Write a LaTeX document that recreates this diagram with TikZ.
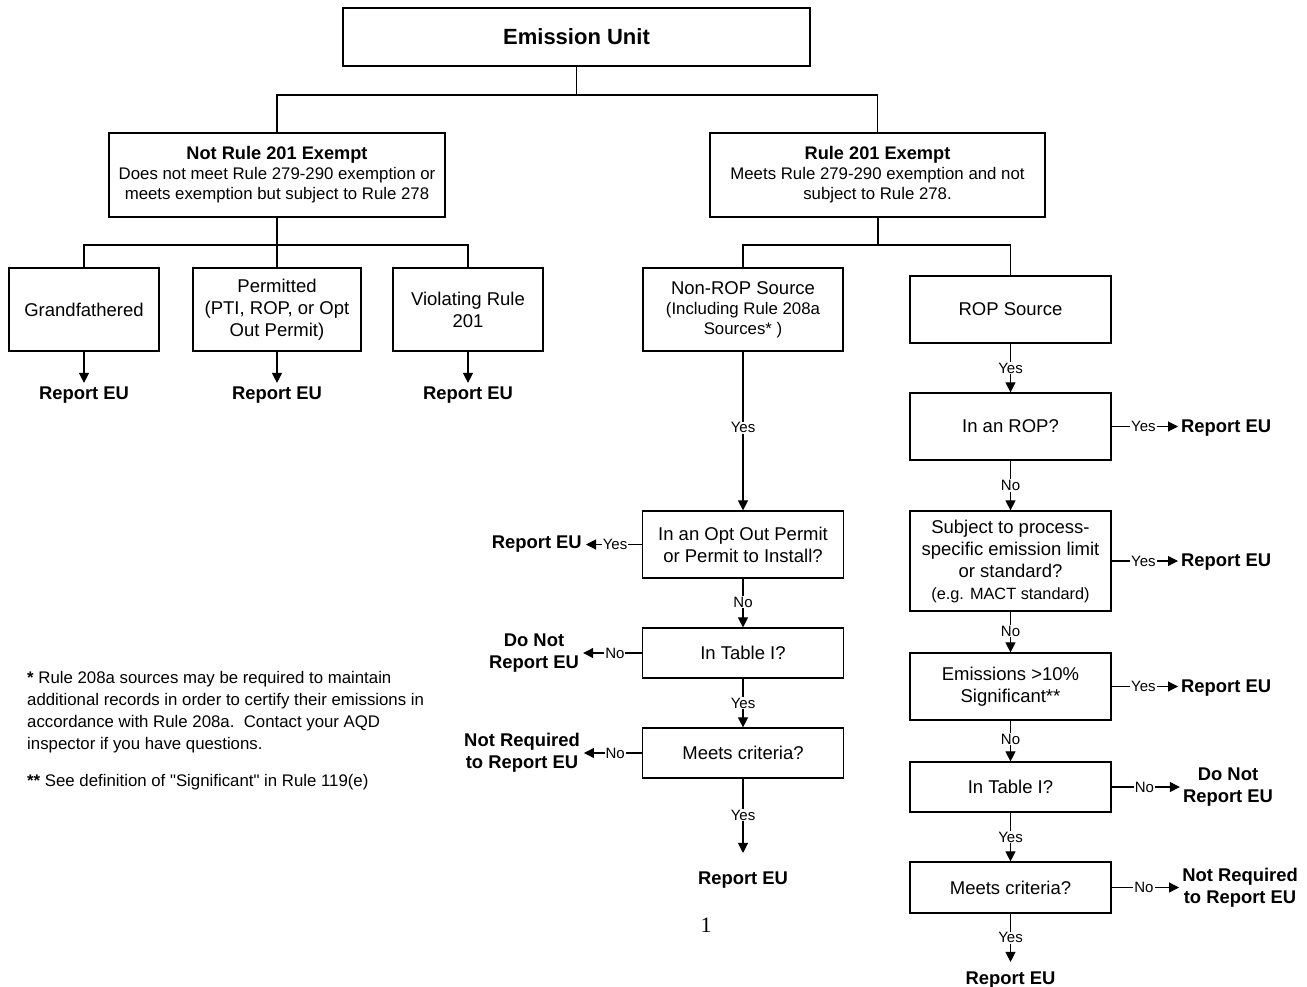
\documentclass[tikz,border=0pt]{standalone}
\usepackage{fontspec}
\setmainfont{Liberation Sans}
\newfontfamily\qfont{Liberation Sans}
\newfontfamily\serifnum{Liberation Serif}
\usetikzlibrary{arrows.meta}
\tikzset{
  box/.style={draw, line width=1.2pt, fill=white, align=center, inner sep=0pt,
    font=\fontsize{18.5}{22}\selectfont},
  conn/.style={line width=1.1pt},
  stem/.style={line width=2pt},
  arr/.style={line width=1.1pt, -{Triangle[length=10pt,width=10pt]}},
  lab/.style={fill=white, inner sep=1pt, font=\fontsize{15}{16}\selectfont},
  res/.style={align=center, inner sep=3pt, font=\bfseries\fontsize{18.4}{22}\selectfont},
}
\begin{document}
\begin{tikzpicture}[x=1pt,y=-1pt]
\useasboundingbox (0,0) rectangle (1307,986);
% top
\node[box, minimum width=467, minimum height=58, font=\bfseries\fontsize{22}{24}\selectfont] (eu) at (576.5,37) {Emission Unit};
\node[box, minimum width=336, minimum height=84, font=\fontsize{16.8}{20}\selectfont] (nr) at (277,175)
  {{\bfseries\fontsize{18.2}{20}\selectfont Not Rule 201 Exempt}\\Does not meet Rule 279-290 exemption or\\meets exemption but subject to Rule 278};
\node[box, minimum width=335, minimum height=84, font=\fontsize{16.8}{20}\selectfont] (ex) at (877.5,175)
  {{\bfseries\fontsize{18.2}{20}\selectfont Rule 201 Exempt}\\Meets Rule 279-290 exemption and not\\subject to Rule 278.};
\coordinate (j0) at (576.5,95);
\draw[conn] (eu.south) -- (j0);
\draw[conn] (nr.north) |- (j0) -| (ex.north);
% not exempt branch
\node[box, minimum width=150, minimum height=83] (gf) at (84,309.5) {Grandfathered};
\node[box, minimum width=168, minimum height=83] (pm) at (277,309.5) {Permitted\\(PTI, ROP, or Opt\\Out Permit)};
\node[box, minimum width=150, minimum height=83] (vr) at (468,309.5) {Violating Rule\\201};
\coordinate (j1) at (277,245);
\draw[stem] (nr.south) -- (j1);
\draw[conn] (gf.north) |- (j1) -| (vr.north);
\draw[conn] (j1) -- (pm.north);
\node[res, inner ysep=3.65pt] (r1) at (84,395) {Report EU};
\node[res, inner ysep=3.65pt] (r2) at (277,395) {Report EU};
\node[res, inner ysep=3.65pt] (r3) at (468,395) {Report EU};
\draw[arr] (gf.south) -- (r1.north);
\draw[arr] (pm.south) -- (r2.north);
\draw[arr] (vr.south) -- (r3.north);
% exempt branch
\node[box, minimum width=200, minimum height=83] (nrop) at (743,309.5)
  {Non-ROP Source\\[-2pt]{\fontsize{16.8}{20}\selectfont (Including Rule 208a}\\[-2pt]{\fontsize{16.8}{20}\selectfont Sources* )}};
\node[box, minimum width=201, minimum height=67] (rop) at (1010.5,309.5) {ROP Source};
\coordinate (j2) at (877.5,245);
\draw[stem] (ex.south) -- (j2);
\draw[conn] (nrop.north) |- (j2) -| (rop.north);
% left column
\node[box, minimum width=201, minimum height=67] (opt) at (743,544.5) {In an Opt Out Permit\\or Permit to Install?};
\node[box, minimum width=201, minimum height=50] (tl) at (743,653) {In Table I?};
\node[box, minimum width=201, minimum height=50] (ml) at (743,753) {Meets criteria?};
\node[res, inner ysep=18.6pt] (rl) at (743,880) {Report EU};
\draw[arr] (nrop.south) -- node[lab, pos=0.48]{Yes} (opt.north);
\draw[arr] (opt.south) -- node[lab, pos=0.48]{No} (tl.north);
\draw[arr] (tl.south) -- node[lab, pos=0.5]{Yes} (ml.north);
\draw[arr] (ml.south) -- node[lab, pos=0.49]{Yes} (rl.north);
\node[res, anchor=east, inner sep=4pt] (rlo) at (586,544.5) {Report EU};
\node[res, inner sep=4pt] (dnl) at (534,653) {Do Not\\Report EU};
\node[res, inner sep=4pt] (nql) at (522,753) {Not Required\\to Report EU};
\draw[arr] (opt.west) -- node[lab, pos=0.48]{Yes} (opt.west -| rlo.east);
\draw[arr] (tl.west) -- node[lab, pos=0.46]{No} (tl.west -| dnl.east);
\draw[arr] (ml.west) -- node[lab, pos=0.46]{No} (ml.west -| nql.east);
% right column
\node[box, minimum width=201, minimum height=67] (irop) at (1010.5,426.5) {In an ROP?};
\node[box, minimum width=201, minimum height=100] (subj) at (1010.5,561)
  {Subject to process-\\specific emission limit\\or standard?\\{\fontsize{16.3}{20}\selectfont (e.g. MACT standard)}};
\node[box, minimum width=201, minimum height=67] (emi) at (1010.5,686.5) {Emissions {>}10\%\\Significant**};
\node[box, minimum width=201, minimum height=50] (tr) at (1010.5,787) {In Table I?};
\node[box, minimum width=201, minimum height=51] (mr) at (1010.5,887.5) {Meets criteria?};
\node[res, inner ysep=9.65pt] (rr) at (1010.5,980) {Report EU};
\draw[arr] (rop.south) -- node[lab, pos=0.5]{Yes} (irop.north);
\draw[arr] (irop.south) -- node[lab, pos=0.5]{No} (subj.north);
\draw[arr] (subj.south) -- node[lab, pos=0.48]{No} (emi.north);
\draw[arr] (emi.south) -- node[lab, pos=0.45]{No} (tr.north);
\draw[arr] (tr.south) -- node[lab, pos=0.5]{Yes} (mr.north);
\draw[arr] (mr.south) -- node[lab, pos=0.5]{Yes} (rr.north);
\node[res, anchor=west, inner sep=3pt] (ra) at (1178,428.5) {Report EU};
\node[res, anchor=west, inner sep=3pt] (rb) at (1178,562) {Report EU};
\node[res, anchor=west, inner sep=3pt] (rc) at (1178,688) {Report EU};
\node[res, inner sep=3pt] (dnr) at (1228,787) {Do Not\\Report EU};
\node[res, inner sep=3pt] (nqr) at (1240,887.5) {Not Required\\to Report EU};
\draw[arr] (irop.east) -- node[lab, pos=0.48]{Yes} (irop.east -| ra.west);
\draw[arr] (subj.east) -- node[lab, pos=0.48]{Yes} (subj.east -| rb.west);
\draw[arr] (emi.east) -- node[lab, pos=0.48]{Yes} (emi.east -| rc.west);
\draw[arr] (tr.east) -- node[lab, pos=0.48]{No} (tr.east -| dnr.west);
\draw[arr] (mr.east) -- node[lab, pos=0.48]{No} (mr.east -| nqr.west);
% footnotes
\node[anchor=north west, align=left, inner sep=0pt, font=\fontsize{16.8}{22}\selectfont] (fn1) at (27,671)
  {\textbf{*} Rule 208a sources may be required to maintain\\additional records in order to certify their emissions in\\accordance with Rule 208a.\ \ Contact your AQD\\inspector if you have questions.};
\node[anchor=north west, align=left, inner sep=0pt, font=\qfont\fontsize{16.8}{22}\selectfont] (fn2) at (27,774)
  {\textbf{**} See definition of "Significant" in Rule 119(e)};
\node[font=\serifnum\fontsize{22}{24}\selectfont, inner sep=0pt] (pg) at (706,925) {1};
\end{tikzpicture}
\end{document}
